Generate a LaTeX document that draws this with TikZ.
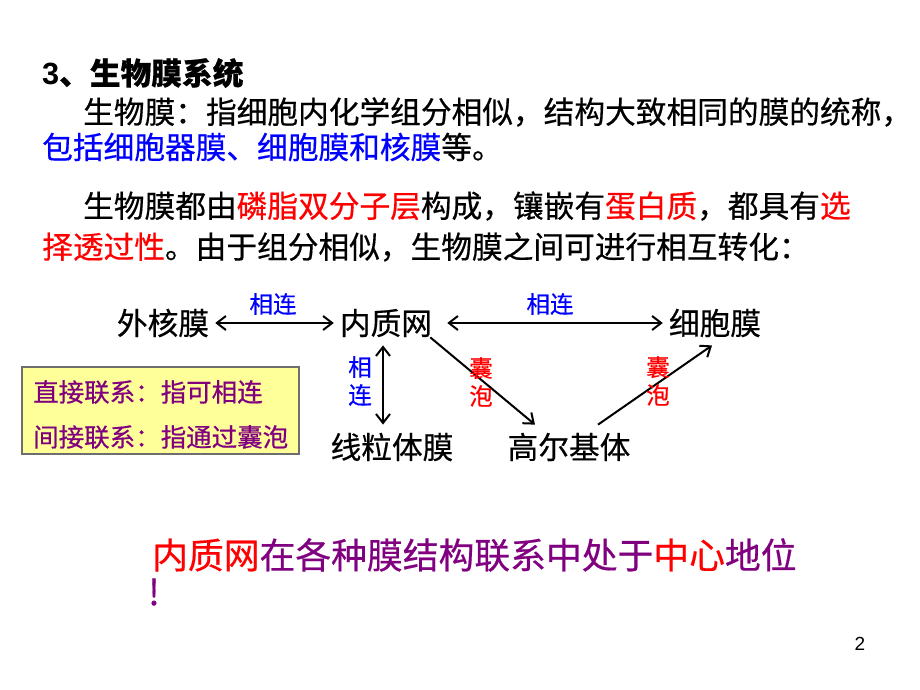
\documentclass[tikz,border=0pt]{standalone}
\usepackage{fontspec}
\setmainfont{Noto Sans CJK SC}[FakeBold=0.5]
\newfontfamily\latinfont{Liberation Sans}
\usetikzlibrary{arrows.meta,positioning}
\definecolor{slidered}{RGB}{255,0,0}
\definecolor{slideblue}{RGB}{0,0,255}
\definecolor{slidepurple}{RGB}{128,0,128}
\definecolor{notefill}{RGB}{255,255,153}
\definecolor{noteedge}{RGB}{110,110,110}

\begin{document}
\begin{tikzpicture}[
        x=1pt, y=-1pt,
        >={Straight Barb[length=9pt,width=14pt]},
        % Text styles
        txtline/.style={
            anchor=west,
            inner sep=0pt,
            font=\fontsize{30.7}{36}\selectfont
        },
        term/.style={
            inner xsep=6pt,
            inner ysep=8pt,
            font=\fontsize{30.7}{36}\selectfont
        },
        tag/.style={
            inner sep=0pt,
            align=center,
            font=\fontsize{23.5}{28}\selectfont,
            text=#1
        },
        notetext/.style={
            anchor=west,
            inner sep=0pt,
            text=slidepurple,
            font=\fontsize{25.5}{30}\selectfont
        },
        link/.style={<->, line width=2pt},
        flow/.style={->, line width=2pt}
    ]

    \fill[white] (0,0) rectangle (920,690);
    \useasboundingbox (0,0) rectangle (920,690);

    % Heading and text
    \node[txtline, font=\fontsize{30.7}{36}\selectfont\bfseries] (title) at (42,73) {{\latinfont 3}、生物膜系统};
    \node[txtline] (def) at (83,112) {生物膜：指细胞内化学组分相似，结构大致相同的膜的统称，};
    \node[txtline] (incl) at (42,147) {\textcolor{slideblue}{包括细胞器膜、细胞膜和核膜}等。};
    \node[txtline] (comp1) at (83,206) {生物膜都由\textcolor{slidered}{磷脂双分子层}构成，镶嵌有\textcolor{slidered}{蛋白质}，都具有\textcolor{slidered}{选}};
    \node[txtline] (comp2) at (42,247) {\textcolor{slidered}{择透过性}。由于组分相似，生物膜之间可进行相互转化：};

    % Membranes
    \node[term] (wai) at (163,323) {外核膜};
    \node[term] (nei) at (386,323) {内质网};
    \node[term] (xi) at (715,323) {细胞膜};
    \node[term] (xian) at (392,447) {线粒体膜};
    \node[term] (gao) at (569,447) {高尔基体};

    % Connections
    \draw[link] (wai) -- (nei);
    \draw[link, shorten <=9pt] (nei) -- (xi);
    \draw[link] ([xshift=-3pt]nei.south) -- ([xshift=-3pt]nei.south |- xian.north);
    \draw[flow] ([xshift=-8pt,yshift=8pt]nei.south east) -- ([xshift=-34pt]gao.north);
    \draw[flow] ([xshift=29pt]gao.north) -- ([xshift=-3pt]xi.south);

    \node[tag=slideblue] (lk1) at (273,304) {相连};
    \node[tag=slideblue] (lk2) at (550,304) {相连};
    \node[tag=slideblue] (lk3) at (360,381) {相\\连};
    \node[tag=slidered] (vs1) at (481,382) {囊\\泡};
    \node[tag=slidered] (vs2) at (658,381) {囊\\泡};

    % Note box
    \node[draw=noteedge, line width=1.5pt, fill=notefill, minimum width=277pt, minimum height=87pt, inner sep=0pt] (note) at (160.5,410.5) {};
    \node[notetext] (direct) at (33,392) {直接联系：指可相连};
    \node[notetext] (indirect) at (33,437) {间接联系：指通过囊泡};

    % Conclusion
    \node[txtline, text=slidepurple, font=\fontsize{35.8}{43}\selectfont] (center) at (152,555) {\textcolor{slidered}{内质网}在各种膜结构联系中处于\textcolor{slidered}{中心}地位};
    \node[txtline, text=slidepurple, font=\fontsize{35.8}{43}\selectfont] (excl) at (148,592) {!};

    \node[font=\latinfont\fontsize{19}{22}\selectfont] (pagenum) at (860,644) {2};

\end{tikzpicture}
\end{document}
